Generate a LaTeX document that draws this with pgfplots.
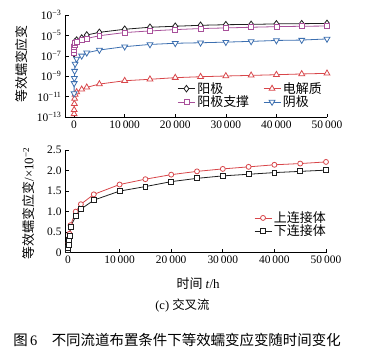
\documentclass[border=0pt]{standalone}
\usepackage{pgfplots}
\pgfplotsset{compat=1.18}
\usepackage{pgfplotstable}
\usepackage{fontspec}
\setmainfont{Liberation Serif}
\newfontfamily\cjk{Noto Sans CJK SC}
\definecolor{cblk}{HTML}{1E1E1E}
\definecolor{cmag}{HTML}{A8509A}
\definecolor{cred}{HTML}{D8464A}
\definecolor{cblu}{HTML}{3C6FB0}

\pgfplotstableread{
t      anode    elec     supp     cath
1      1.6e-7   2.0e-13  2.0e-7   2.0e-11
10     4.0e-7   5.0e-13  4.0e-7   2.0e-10
50     7.9e-7   2.0e-12  7.1e-7   6.3e-10
100    1.4e-6   6.3e-12  1.1e-6   3.2e-9
200    2.5e-6   1.6e-11  1.8e-6   1.6e-8
500    3.5e-6   2.8e-11  2.5e-6   5.0e-8
1500   5.6e-6   5.1e-11  3.5e-6   1.0e-7
2500   1.1e-5   8.1e-11  5.0e-6   2.0e-7
5000   2.0e-5   1.7e-10  9.3e-6   3.7e-7
10000  4.0e-5   3.6e-10  1.9e-5   7.9e-7
15000  6.3e-5   5.0e-10  2.75e-5  1.3e-6
20000  7.9e-5   7.2e-10  3.7e-5   1.7e-6
25000  9.8e-5   8.9e-10  4.7e-5   1.9e-6
30000  1.12e-4  1.05e-9  5.4e-5   2.2e-6
35000  1.2e-4   1.2e-9   6.3e-5   2.6e-6
40000  1.35e-4  1.4e-9   7.2e-5   3.2e-6
45000  1.41e-4  1.66e-9  7.9e-5   3.5e-6
50000  1.5e-4   1.9e-9   8.3e-5   4.5e-6
}\topdata

\pgfplotstableread{
t      upper  lower
10     0.08   0.06
50     0.14   0.11
100    0.24   0.20
200    0.35   0.30
300    0.46   0.40
500    0.67   0.63
1500   1.00   0.89
2500   1.18   1.06
5000   1.42   1.28
10000  1.66   1.50
15000  1.79   1.61
20000  1.90   1.73
25000  1.98   1.81
30000  2.04   1.87
35000  2.09   1.91
40000  2.14   1.95
45000  2.17   1.98
50000  2.21   2.01
}\botdata

\pgfplotsset{
  common/.style={
    scale only axis,
    axis lines=left,
    axis line style={-, line width=0.7pt},
    tick align=inside,
    major tick length=3.5bp,
    tick style={line width=0.6pt, black},
    tick label style={font=\fontsize{11.5}{13}\selectfont},
    label style={font=\fontsize{13}{15}\selectfont},
    scaled x ticks=false,
    xtick={0,10000,20000,30000,40000,50000},
    xticklabels={0,10\,000,20\,000,30\,000,40\,000,50\,000},
    xmax=50000,
    clip=false,
    legend cell align=left,
    legend style={draw=none, fill=none, font=\fontsize{13}{15}\selectfont\cjk,
      row sep=-3bp, inner sep=1bp},
  },
}

\begin{document}
\begin{tikzpicture}[x=1bp,y=1bp]
\path[use as bounding box] (0,0) rectangle (367,-354);

\begin{axis}[common,
  at={(65bp,-117bp)}, anchor=south west,
  width=262bp, height=102bp,
  xmin=-1800,
  ymode=log, ymin=1e-13, ymax=1e-3,
  ytick={1e-13,1e-11,1e-9,1e-7,1e-5,1e-3},
  yticklabels={10\textsuperscript{−13},10\textsuperscript{−11},10\textsuperscript{−9},10\textsuperscript{−7},10\textsuperscript{−5},10\textsuperscript{−3}},
  yminorticks=false,
  ylabel={\cjk 等效蠕变应变},
  ylabel style={at={(axis description cs:-0.165,0.52)}, anchor=center},
  legend columns=2,
  legend style={at={(axis description cs:0.425,0.37)}, anchor=north west,
    /tikz/every even column/.append style={column sep=12bp}},
]
\addplot[cblk, line width=0.8pt, mark=diamond*, mark size=3.3pt, mark options={fill=white, solid}] table[x=t, y=anode] {\topdata};
\addlegendentry{阳极}
\addplot[cred, line width=0.8pt, mark=triangle*, mark size=3.4pt, mark options={fill=white, solid}] table[x=t, y=elec] {\topdata};
\addlegendentry{电解质}
\addplot[cmag, line width=0.8pt, mark=square*, mark size=2.5pt, mark options={fill=white, solid}] table[x=t, y=supp] {\topdata};
\addlegendentry{阳极支撑}
\addplot[cblu, line width=0.8pt, mark=triangle*, mark size=3.4pt, mark options={fill=white, solid, rotate=180}] table[x=t, y=cath] {\topdata};
\addlegendentry{阴极}
\end{axis}

\begin{axis}[common,
  at={(65bp,-252.7bp)}, anchor=south west,
  width=261bp, height=102.7bp,
  xmin=-580,
  ymin=0, ymax=2.5,
  ytick={0,0.5,1,1.5,2,2.5},
  yticklabels={0,0.5,1.0,1.5,2.0,2.5},
  ylabel={{\cjk 等效蠕变应变}/×10\textsuperscript{−2}},
  ylabel style={at={(axis description cs:-0.14,0.48)}, anchor=center},
  xlabel={{\cjk 时间} \textit{t}/h},
  xlabel style={at={(axis description cs:0.51,-0.30)}, anchor=center},
  legend style={at={(axis description cs:0.72,0.43)}, anchor=north west},
]
\addplot[cred, line width=0.8pt, mark=*, mark size=2.5pt, mark options={fill=white, solid}] table[x=t, y=upper] {\botdata};
\addlegendentry{上连接体}
\addplot[cblk, line width=0.8pt, mark=square*, mark size=2.5pt, mark options={fill=white, solid}] table[x=t, y=lower] {\botdata};
\addlegendentry{下连接体}
\end{axis}

\node[font=\fontsize{12.5}{14}\selectfont] at (182.5,-306) {(c) {\cjk 交叉流}};
\node[font=\fontsize{14.5}{16}\selectfont] at (177,-340) {{\cjk 图}\,6\quad{\cjk 不同流道布置条件下等效蠕变应变随时间变化}};
\end{tikzpicture}
\end{document}
